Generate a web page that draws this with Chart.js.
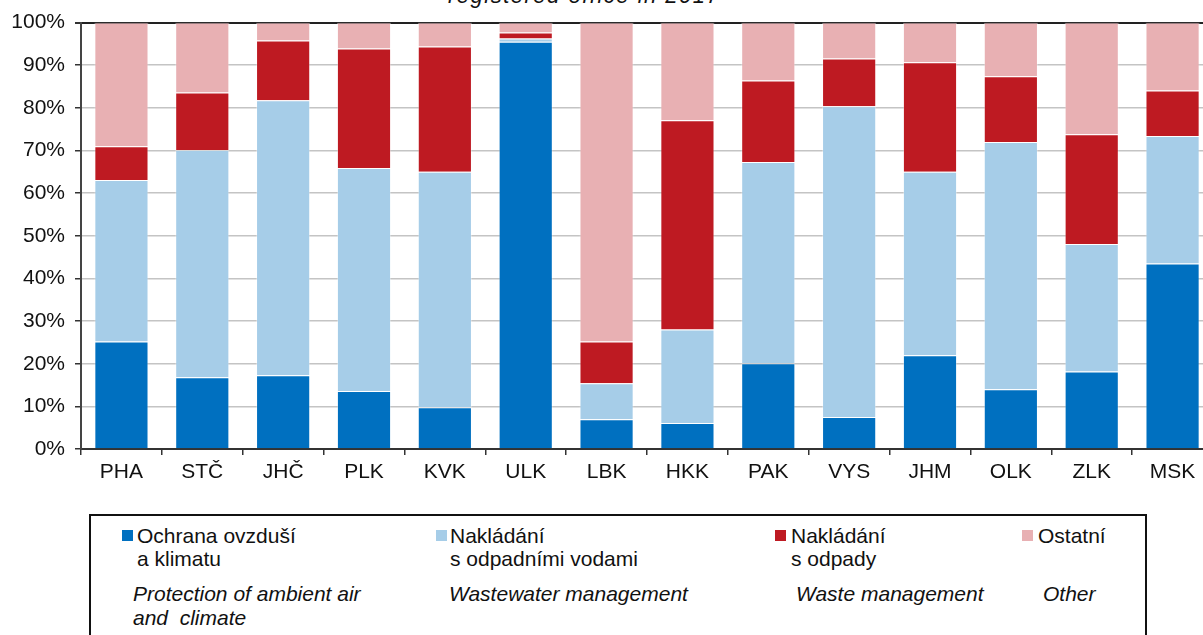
<!DOCTYPE html>
<html>
<head>
<meta charset="utf-8">
<script src="https://cdn.jsdelivr.net/npm/chart.js@4"></script>
<style>
  html, body { margin: 0; padding: 0; background: #fff; overflow: hidden; }
  body { width: 1203px; height: 635px; position: relative; font-family: "Liberation Sans", Arial, sans-serif; color: #111; }
  #wrap { position: absolute; left: 0; top: 0; width: 1213px; height: 500px; }
  #title { position: absolute; left: 448px; top: -14px; font-size: 22px; line-height: 20px; font-style: italic; letter-spacing: 1.5px; white-space: nowrap; }
  #legend { position: absolute; left: 89px; top: 514px; width: 1058px; height: 140px; border: 2px solid #111; box-sizing: border-box; }
  .sq { position: absolute; width: 11px; height: 11px; top: 530px; }
  .cz { position: absolute; top: 524px; font-size: 21px; line-height: 23px; white-space: nowrap; }
  .en { position: absolute; top: 582px; font-size: 21px; line-height: 24px; font-style: italic; white-space: nowrap; }
</style>
</head>
<body>
<div id="title">registered office in 2017</div>
<div id="wrap"><canvas id="barChart" width="1213" height="500"></canvas></div>
<div id="legend"></div>
<div class="sq" style="left:122px;background:#0070c0"></div>
<div class="cz" style="left:137px">Ochrana ovzduší<br>a klimatu</div>
<div class="en" style="left:133px">Protection of ambient air<br>and&nbsp; climate</div>
<div class="sq" style="left:436px;background:#a6cde8"></div>
<div class="cz" style="left:450px">Nakládání<br>s odpadními vodami</div>
<div class="en" style="left:449px">Wastewater management</div>
<div class="sq" style="left:775px;background:#be1a22"></div>
<div class="cz" style="left:791px">Nakládání<br>s odpady</div>
<div class="en" style="left:796px">Waste management</div>
<div class="sq" style="left:1022px;background:#e8b0b3"></div>
<div class="cz" style="left:1038px">Ostatní</div>
<div class="en" style="left:1043px">Other</div>
<script>
// regions
const regions = ['PHA', 'STČ', 'JHČ', 'PLK', 'KVK', 'ULK', 'LBK', 'HKK', 'PAK', 'VYS', 'JHM', 'OLK', 'ZLK', 'MSK'];

// shares in %
const airClimate = [25.2, 16.8, 17.3, 13.6, 9.8, 95.5, 7.0, 6.1, 20.1, 7.5, 22.0, 14.0, 18.2, 43.5];
const wastewater = [37.9, 53.3, 64.5, 52.3, 55.2, 0.8, 8.4, 21.9, 47.2, 72.9, 43.0, 58.0, 29.9, 29.9];
const waste = [7.9, 13.5, 14.0, 28.0, 29.4, 1.4, 9.8, 49.1, 19.1, 11.2, 25.7, 15.4, 25.7, 10.7];
const other = [29.0, 16.4, 4.2, 6.1, 5.6, 2.3, 74.8, 22.9, 13.6, 8.4, 9.3, 12.6, 26.2, 15.9];

const yTicks = [0, 10, 20, 30, 40, 50, 60, 70, 80, 90, 100];

function getChart() {
    const font = { family: '"Liberation Sans", Arial, sans-serif', size: 21 };
    const data = {
        labels: regions,
        datasets: [
            { label: 'Ochrana ovzduší a klimatu', data: airClimate, backgroundColor: '#0070c0', borderColor: 'rgba(255,255,255,0.35)' },
            { label: 'Nakládání s odpadními vodami', data: wastewater, backgroundColor: '#a6cde8', borderColor: 'rgba(255,255,255,0.35)' },
            { label: 'Nakládání s odpady', data: waste, backgroundColor: '#be1a22', borderColor: 'rgba(255,255,255,0.35)' },
            { label: 'Ostatní', data: other, backgroundColor: '#e8b0b3', borderColor: 'rgba(255,255,255,0.35)' }
        ]
    };
    const config = {
        type: 'bar',
        data,
        options: {
            responsive: false,
            animation: false,
            devicePixelRatio: 1,
            layout: { padding: { top: 20, left: 0, right: 0, bottom: 0 } },
            datasets: { bar: { barPercentage: 0.67, categoryPercentage: 1, borderWidth: 1 } },
            plugins: { legend: { display: false }, tooltip: { enabled: false } },
            scales: {
                x: {
                    stacked: true,
                    afterFit: (s) => { s.height = 51; },
                    border: { color: '#333', width: 2 },
                    grid: { offset: true, drawOnChartArea: false, tickLength: 6, color: '#333', lineWidth: 1.5 },
                    ticks: { color: '#111', font, padding: 5 }
                },
                y: {
                    stacked: true,
                    min: 0,
                    max: 100,
                    afterFit: (s) => { s.width = 81; },
                    afterBuildTicks: (s) => { s.ticks = yTicks.map(v => ({ value: v })); },
                    border: { color: '#444', width: 2 },
                    grid: {
                        color: (c) => c.tick && c.tick.value === 100 ? '#222' : '#c4c4c4',
                        lineWidth: (c) => c.tick && c.tick.value === 100 ? 2 : 1.5,
                        tickColor: '#333',
                        tickLength: 6
                    },
                    ticks: { color: '#111', font, padding: 10, callback: (v) => v + '%' }
                }
            }
        }
    };
    new Chart(document.getElementById('barChart'), config);
}

getChart();
</script>
</body>
</html>
